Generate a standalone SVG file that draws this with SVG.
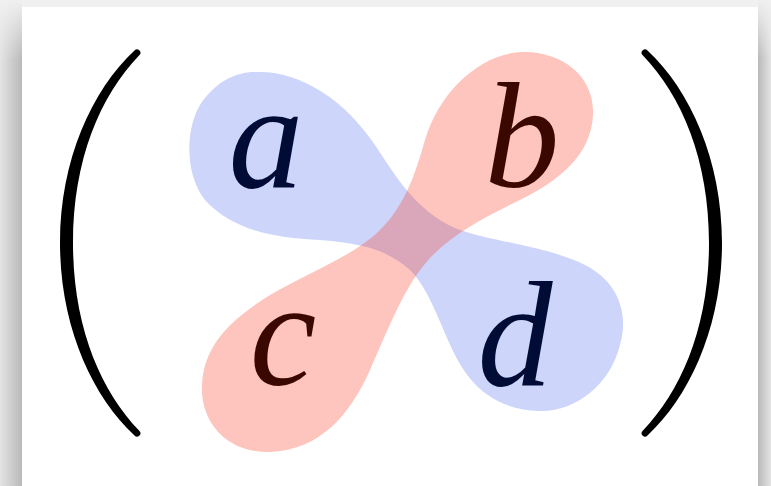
<svg xmlns="http://www.w3.org/2000/svg" width="771" height="486" viewBox="0 0 771 486">
  <defs>
    <linearGradient id="gl" x1="0" y1="0" x2="1" y2="0">
      <stop offset="0" stop-color="#e4e4e4"/>
      <stop offset="1" stop-color="#b9b9b9"/>
    </linearGradient>
    <linearGradient id="gr" x1="0" y1="0" x2="1" y2="0">
      <stop offset="0" stop-color="#b9b9b9"/>
      <stop offset="1" stop-color="#e4e4e4"/>
    </linearGradient>
    <linearGradient id="gt" x1="0" y1="0" x2="0" y2="1">
      <stop offset="0" stop-color="#f2f2f2"/>
      <stop offset="1" stop-color="#e2e2e2"/>
    </linearGradient>
    <linearGradient id="fadeTop" x1="0" y1="0" x2="0" y2="1">
      <stop offset="0" stop-color="#f0f0f0" stop-opacity="1"/>
      <stop offset="1" stop-color="#f0f0f0" stop-opacity="0"/>
    </linearGradient>
  </defs>
  <style>
    .paren { fill: #000; }
    .blue { fill: #cdd5fb; }
    .red { fill: #f83e23; fill-opacity: 0.3; }
    .lbl { font-family: "Liberation Serif", "DejaVu Serif", serif; font-style: italic; font-size: 150px; text-anchor: middle; }
    .lblBlue { fill: #000c35; }
    .lblRed { fill: #3b0800; }
  </style>

  <!-- shadow background -->
  <rect x="0" y="0" width="771" height="486" fill="url(#gt)"/>
  <rect x="0" y="0" width="22" height="486" fill="url(#gl)"/>
  <rect x="758" y="0" width="13" height="486" fill="url(#gr)"/>
  <rect x="0" y="0" width="771" height="60" fill="url(#fadeTop)"/>
  <!-- card -->
  <rect x="22" y="7" width="736" height="479" fill="#ffffff"/>

  <g id="blob-ad">
    <path class="blue" d="M 255,72 C 300,70 345,100 375,145 C 395,175 415,210 455,228 C 490,242 545,245 585,265 C 615,280 630,310 620,345 C 610,385 575,412 540,411 C 495,410 470,385 455,355 C 440,325 430,290 410,270 C 390,252 365,243 320,240 C 270,238 230,228 205,200 C 185,175 185,130 200,105 C 215,82 235,72 255,72 Z"/>
  </g>
  <g id="blob-bc">
    <path class="red" d="M 520,52 C 560,50 595,75 593,115 C 591,155 560,180 520,200 C 485,217 455,232 430,258 C 405,285 390,325 370,370 C 350,415 320,450 270,452 C 225,453 200,420 202,385 C 204,345 230,320 270,295 C 310,272 355,255 380,230 C 405,205 415,175 425,140 C 440,90 480,55 520,52 Z"/>
  </g>

  <g id="node-a"><text class="lbl lblBlue" x="266" y="187">a</text></g>
  <g id="node-b"><text class="lbl lblRed" x="522" y="187">b</text></g>
  <g id="node-c"><text class="lbl lblRed" x="283" y="385">c</text></g>
  <g id="node-d"><text class="lbl lblBlue" x="515" y="385">d</text></g>

  <g id="paren-left">
    <path class="paren" d="M 134.5,50.5 C 92,90 60,160 60,243 C 60,326 92,396 134.5,435.5 A 3,3 0 0 0 139.5,431 C 100,390 73,326 73,243 C 73,160 100,96 139.5,55 A 3,3 0 0 0 134.5,50.5 Z"/>
  </g>
  <g id="paren-right">
    <path class="paren" d="M 647.5,50.5 C 690,90 722,160 722,243 C 722,326 690,396 647.5,435.5 A 3,3 0 0 1 642.5,431 C 682,390 709,326 709,243 C 709,160 682,96 642.5,55 A 3,3 0 0 1 647.5,50.5 Z"/>
  </g>
  <g id="connectors"></g>
</svg>
